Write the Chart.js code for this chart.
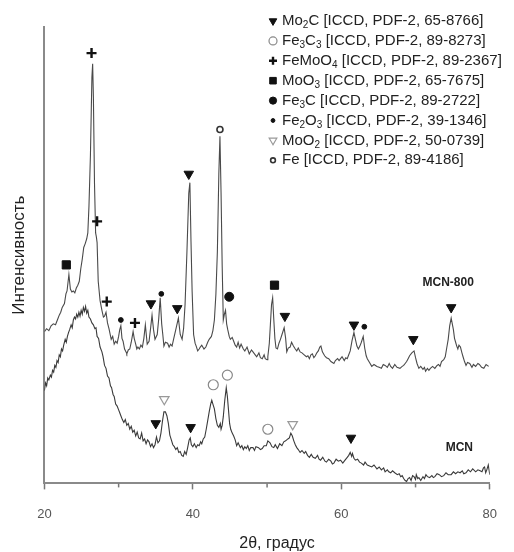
<!DOCTYPE html>
<html>
<head>
<meta charset="utf-8">
<script src="https://cdn.jsdelivr.net/npm/chart.js@4.4.1/dist/chart.umd.min.js"></script>
<style>
  html, body { margin: 0; padding: 0; background: #fff; overflow: hidden; }
  #xrd { display: block; }
</style>
</head>
<body>
<canvas id="xrd" width="514" height="552"></canvas>
<script>
// XRD patterns, [2theta, intensity (arb. units)]
const mcn800 = [
  [20.0,157],[20.3,160],[20.6,158],[20.9,163],[21.2,165],[21.5,164],[21.8,170],[22.0,174],[22.2,177],[22.4,182],
  [22.7,186],[22.9,196],[23.05,199],[23.3,216],[23.5,201],[23.7,198],[23.9,199],[24.1,197],[24.3,202],[24.5,205],
  [24.7,209],[24.9,222],[25.1,232],[25.3,244],[25.5,248],[25.7,253],[25.85,259],[26.0,286],[26.2,339],[26.4,420],
  [26.5,434],[26.6,400],[26.75,310],[26.9,259],[27.0,255],[27.1,249],[27.25,209],[27.5,189],[27.75,179],[27.95,172],
  [28.1,173],[28.3,177],[28.5,166],[28.7,160],[29.0,149],[29.2,152],[29.4,144],[29.6,147],[29.8,145],[30.0,152],
  [30.15,159],[30.3,163],[30.45,150],[30.6,147],[30.8,139],[31.0,136],[31.1,134],[31.3,138],[31.5,139],[31.7,146],
  [31.95,157],[32.1,150],[32.3,144],[32.45,139],[32.6,141],[32.8,139],[33.0,143],[33.2,141],[33.4,150],[33.6,164],
  [33.85,144],[34.1,147],[34.3,160],[34.5,174],[34.7,159],[34.9,149],[35.2,154],[35.4,170],[35.6,192],[35.8,165],
  [35.95,154],[36.1,142],[36.3,146],[36.6,145],[36.8,141],[37.0,144],[37.2,142],[37.4,149],[37.7,159],[38.05,171],
  [38.3,154],[38.55,149],[38.75,160],[38.95,185],[39.2,239],[39.45,300],[39.6,311],[39.75,250],[39.9,199],[40.1,154],
  [40.3,145],[40.45,142],[40.65,137],[40.85,139],[41.0,141],[41.2,143],[41.5,139],[41.75,141],[42.0,146],[42.2,149],
  [42.5,152],[42.7,158],[42.9,169],[43.1,195],[43.3,239],[43.5,320],[43.65,359],[43.8,300],[43.95,225],[44.1,169],
  [44.25,175],[44.4,179],[44.55,165],[44.7,159],[44.9,152],[45.05,149],[45.3,151],[45.5,147],[45.7,143],[45.9,141],
  [46.1,146],[46.3,140],[46.5,144],[46.8,139],[47.0,137],[47.3,141],[47.6,134],[47.9,138],[48.1,136],[48.4,133],
  [48.6,131],[48.9,135],[49.1,130],[49.35,129],[49.6,133],[49.75,129],[50.0,128],[50.1,131],[50.3,145],[50.45,165],
  [50.6,185],[50.75,192],[50.9,170],[51.05,150],[51.2,140],[51.4,139],[51.6,145],[51.8,149],[52.05,155],[52.3,161],
  [52.5,150],[52.65,136],[52.85,140],[53.1,141],[53.3,146],[53.55,142],[53.8,139],[54.0,137],[54.2,140],[54.45,136],
  [54.7,135],[55.0,133],[55.3,131],[55.5,132],[55.7,129],[55.9,133],[56.1,134],[56.3,130],[56.5,132],[56.7,135],
  [56.9,137],[57.1,141],[57.25,142],[57.45,136],[57.75,132],[58.0,130],[58.3,129],[58.6,126],[59.0,124],[59.2,127],
  [59.5,129],[59.7,127],[59.9,129],[60.1,131],[60.4,127],[60.6,130],[60.8,129],[61.0,133],[61.2,137],[61.45,148],
  [61.7,156],[61.9,149],[62.1,142],[62.3,139],[62.5,142],[62.7,146],[62.95,152],[63.15,140],[63.35,132],[63.5,129],
  [63.8,125],[64.1,121],[64.4,123],[64.8,121],[65.1,120],[65.4,119],[65.65,123],[65.9,122],[66.2,120],[66.45,124],
  [66.65,121],[66.9,119],[67.2,123],[67.5,120],[67.9,119],[68.2,121],[68.4,122],[68.6,124],[68.8,126],[69.0,129],
  [69.2,132],[69.5,135],[69.8,137],[70.0,130],[70.2,124],[70.45,119],[70.7,121],[71.0,118],[71.2,120],[71.35,116],
  [71.6,119],[71.8,117],[72.0,119],[72.3,121],[72.6,119],[72.9,122],[73.1,123],[73.3,121],[73.5,126],[73.8,128],
  [74.0,131],[74.2,140],[74.4,149],[74.6,163],[74.8,171],[74.95,165],[75.1,159],[75.25,150],[75.4,146],[75.55,142],
  [75.7,139],[75.85,143],[76.05,141],[76.25,135],[76.4,131],[76.6,126],[76.8,122],[77.0,125],[77.3,124],[77.6,120],
  [77.8,123],[78.1,121],[78.4,124],[78.6,123],[78.9,120],[79.2,119],[79.5,123],[79.85,121]
];
const mcn = [
  [20.0,96],[20.15,104],[20.3,101],[20.45,109],[20.6,107],[20.8,112],[20.95,110],[21.1,117],[21.25,115],[21.4,122],
  [21.55,120],[21.7,127],[21.85,125],[22.0,133],[22.15,131],[22.3,139],[22.45,137],[22.6,143],[22.8,149],[22.95,146],
  [23.1,152],[23.25,156],[23.4,159],[23.6,164],[23.75,161],[23.9,169],[24.05,172],[24.2,170],[24.35,175],[24.5,172],
  [24.65,177],[24.8,173],[24.95,179],[25.1,175],[25.25,182],[25.4,178],[25.55,183],[25.7,176],[25.85,179],[26.0,172],
  [26.2,170],[26.4,166],[26.6,164],[26.8,160],[26.95,161],[27.1,152],[27.3,150],[27.5,141],[27.75,136],[27.9,131],
  [28.1,122],[28.3,119],[28.5,111],[28.7,109],[28.9,101],[29.05,99],[29.25,92],[29.4,90],[29.6,82],[29.8,80],
  [30.0,76],[30.15,73],[30.3,70],[30.5,66],[30.7,63],[30.9,66],[31.1,60],[31.3,62],[31.5,56],[31.7,59],
  [31.9,53],[32.1,55],[32.3,49],[32.5,53],[32.7,47],[32.9,46],[33.1,52],[33.3,44],[33.5,46],[33.7,41],
  [33.9,45],[34.1,43],[34.3,38],[34.5,41],[34.7,37],[34.9,40],[35.1,48],[35.3,42],[35.5,44],[35.7,52],
  [35.9,64],[36.1,74],[36.3,74],[36.5,70],[36.7,62],[36.9,50],[37.1,45],[37.3,40],[37.5,38],[37.7,35],
  [37.9,37],[38.1,32],[38.3,33],[38.5,29],[38.7,28],[38.9,33],[39.1,30],[39.3,37],[39.5,45],[39.65,47],
  [39.8,40],[40.0,38],[40.2,41],[40.45,37],[40.65,40],[40.85,39],[41.05,43],[41.2,41],[41.4,46],[41.6,48],
  [41.8,56],[42.0,65],[42.2,74],[42.4,82],[42.55,86],[42.7,82],[42.9,77],[43.1,67],[43.3,60],[43.5,58],
  [43.7,62],[43.8,56],[43.95,60],[44.1,69],[44.3,86],[44.5,99],[44.65,90],[44.8,76],[44.95,62],[45.1,56],
  [45.3,52],[45.5,49],[45.7,45],[45.9,39],[46.1,42],[46.4,37],[46.6,39],[46.8,35],[47.0,38],[47.2,36],
  [47.4,39],[47.6,34],[47.8,37],[48.1,37],[48.3,34],[48.5,38],[48.85,37],[49.1,35],[49.35,36],[49.6,39],
  [49.9,39],[50.1,44],[50.4,42],[50.65,38],[50.9,37],[51.1,40],[51.4,36],[51.7,41],[52.0,39],[52.25,43],
  [52.5,44],[52.8,46],[53.0,47],[53.2,52],[53.4,49],[53.6,44],[53.8,40],[54.0,37],[54.2,35],[54.45,32],
  [54.7,34],[55.0,31],[55.2,33],[55.45,29],[55.7,27],[55.95,30],[56.2,27],[56.5,26],[56.8,29],[57.0,25],
  [57.2,24],[57.5,27],[57.8,23],[58.0,22],[58.3,25],[58.6,23],[58.8,20],[59.0,21],[59.3,25],[59.6,23],
  [59.9,24],[60.2,21],[60.5,24],[60.8,27],[61.0,29],[61.2,32],[61.4,28],[61.5,31],[61.7,26],[61.9,24],
  [62.2,25],[62.45,22],[62.7,21],[63.0,19],[63.2,22],[63.5,19],[63.8,18],[64.1,17],[64.4,19],[64.8,15],
  [65.1,17],[65.4,14],[65.7,16],[65.9,12],[66.2,14],[66.4,12],[66.65,11],[66.9,13],[67.2,11],[67.55,9],
  [67.8,10],[68.0,7],[68.2,8],[68.4,5],[68.6,3],[68.8,2],[69.0,5],[69.2,6],[69.4,3],[69.6,8],
  [69.8,7],[70.0,4],[70.1,9],[70.3,5],[70.45,6],[70.7,3],[71.0,7],[71.2,5],[71.4,9],[71.6,7],
  [71.9,6],[72.2,8],[72.4,6],[72.6,7],[72.9,10],[73.2,9],[73.5,7],[73.8,8],[74.1,11],[74.4,9],
  [74.8,9],[75.1,12],[75.4,10],[75.7,12],[76.0,11],[76.3,13],[76.5,10],[76.8,11],[77.1,14],[77.4,12],
  [77.7,15],[78.1,12],[78.4,14],[78.7,13],[78.95,12],[79.15,16],[79.3,17],[79.45,11],[79.6,14],[79.8,19],[80.0,9]
];

// phase marks above the peaks, [2theta, height]
const mo2cPeaks   = [[34.35,186],[37.9,181],[39.45,320],[52.4,173],[61.7,164],[69.7,149],[74.8,182],[35.0,62],[39.7,58],[61.3,47]];
const fe3c3Peaks  = [[42.75,102],[44.65,112],[50.1,56]];
const femoo4Peaks = [[26.35,445],[27.1,271],[28.4,188],[32.2,166]];
const moo3Peaks   = [[22.95,226],[51.0,205]];
const fe3cPeaks   = [[44.9,193]];
const fe2o3Peaks  = [[30.3,169],[35.75,196],[63.1,162]];
const moo2Peaks   = [[36.15,87],[53.45,61]];
const fePeaks     = [[43.65,366]];

const phaseNames = ['Mo_2C', 'Fe_3C_3', 'FeMoO_4', 'MoO_3', 'Fe_3C', 'Fe_2O_3', 'MoO_2', 'Fe'];
const phaseCards = ['65-8766', '89-8273', '89-2367', '65-7675', '89-2722', '39-1346', '50-0739', '89-4186'];
const phasePeaks = [mo2cPeaks, fe3c3Peaks, femoo4Peaks, moo3Peaks, fe3cPeaks, fe2o3Peaks, moo2Peaks, fePeaks];

const xMajor = [20, 40, 60, 80];
const xMinor = [30, 50, 70];

// marker look for each phase (same order as phaseNames)
const markStyles = [
  { pointStyle: 'triangle', rotation: 180, radius: 5.5, fill: '#111', stroke: '#111', bw: 1 },
  { pointStyle: 'circle', rotation: 0, radius: 5, fill: '#fff', stroke: '#888', bw: 1.2 },
  { pointStyle: 'cross', rotation: 0, radius: 5, fill: '#111', stroke: '#111', bw: 2.4 },
  { pointStyle: 'rect', rotation: 0, radius: 5.8, fill: '#111', stroke: '#111', bw: 1 },
  { pointStyle: 'circle', rotation: 0, radius: 4.5, fill: '#111', stroke: '#111', bw: 1 },
  { pointStyle: 'circle', rotation: 0, radius: 2.4, fill: '#111', stroke: '#111', bw: 1 },
  { pointStyle: 'triangle', rotation: 180, radius: 5.5, fill: '#fff', stroke: '#999', bw: 1.2 },
  { pointStyle: 'circle', rotation: 0, radius: 3, fill: '#fff', stroke: '#333', bw: 1.6 }
];

const FONT = '"Liberation Sans", Arial, sans-serif';

// text with "_2" style subscripts
function drawRich(ctx, str, x, y, size, color) {
  ctx.fillStyle = color;
  ctx.textAlign = 'left';
  ctx.textBaseline = 'middle';
  const parts = str.split(/(_\d)/);
  for (const p of parts) {
    if (!p) continue;
    if (p[0] === '_') {
      ctx.font = Math.round(size * 0.65) + 'px ' + FONT;
      ctx.fillText(p[1], x, y + size * 0.3);
      x += ctx.measureText(p[1]).width;
    } else {
      ctx.font = size + 'px ' + FONT;
      ctx.fillText(p, x, y);
      x += ctx.measureText(p).width;
    }
  }
}

const decor = {
  id: 'decor',
  afterDraw(chart) {
    const ctx = chart.ctx;
    const xs = chart.scales.x, ys = chart.scales.y;
    const area = chart.chartArea;
    ctx.save();

    // minor ticks
    ctx.strokeStyle = '#777';
    ctx.lineWidth = 1.5;
    xMinor.forEach(v => {
      const px = xs.getPixelForValue(v);
      ctx.beginPath();
      ctx.moveTo(px, area.bottom);
      ctx.lineTo(px, area.bottom + 4);
      ctx.stroke();
    });

    // x title
    ctx.fillStyle = '#222';
    ctx.font = '16px ' + FONT;
    ctx.textAlign = 'center';
    ctx.textBaseline = 'middle';
    ctx.fillText('2θ, градус', 277, 544);

    // sample labels
    ctx.font = 'bold 12px ' + FONT;
    ctx.fillText('MCN-800', xs.getPixelForValue(74.4), ys.getPixelForValue(208));
    ctx.fillText('MCN', xs.getPixelForValue(75.9), ys.getPixelForValue(37));

    // phase legend
    phaseNames.forEach((name, i) => {
      const y = 21 + i * 19.9;
      const st = markStyles[i];
      ctx.fillStyle = st.fill;
      ctx.strokeStyle = st.stroke;
      ctx.lineWidth = st.bw;
      Chart.helpers.drawPoint(ctx, {
        pointStyle: st.pointStyle, rotation: st.rotation,
        radius: st.radius * 0.8, borderWidth: st.bw
      }, 273, y);
      drawRich(ctx, name + ' [ICCD, PDF-2, ' + phaseCards[i] + ']', 282, y, 15, '#222');
    });
    ctx.restore();
  }
};

const markSets = phasePeaks.map((pk, i) => ({
  type: 'scatter',
  label: phaseNames[i],
  data: pk.map(p => ({ x: p[0], y: p[1] })),
  pointStyle: markStyles[i].pointStyle,
  rotation: markStyles[i].rotation,
  pointRadius: markStyles[i].radius,
  backgroundColor: markStyles[i].fill,
  borderColor: markStyles[i].stroke,
  borderWidth: markStyles[i].bw,
  showLine: false,
  clip: false
}));

new Chart(document.getElementById('xrd'), {
  type: 'line',
  data: {
    datasets: [
      ...markSets,
      {
        label: 'MCN-800',
        data: mcn800.map(p => ({ x: p[0], y: p[1] })),
        borderColor: '#4a4a4a',
        borderWidth: 1.1,
        pointRadius: 0,
        tension: 0
      },
      {
        label: 'MCN',
        data: mcn.map(p => ({ x: p[0], y: p[1] })),
        borderColor: '#3a3a3a',
        borderWidth: 1.1,
        pointRadius: 0,
        tension: 0
      }
    ]
  },
  options: {
    responsive: false,
    animation: false,
    layout: { padding: { left: 7, right: 6, top: 27, bottom: 13 } },
    plugins: {
      legend: { display: false },
      tooltip: { enabled: false }
    },
    scales: {
      x: {
        type: 'linear',
        min: 20,
        max: 80,
        border: { color: '#8a8a8a', width: 2 },
        grid: {
          drawOnChartArea: false,
          tickLength: 6,
          tickWidth: 1.5,
          tickColor: ctx => (xMajor.includes(ctx.tick && ctx.tick.value) ? '#777' : 'rgba(0,0,0,0)')
        },
        ticks: {
          stepSize: 10,
          autoSkip: false,
          maxRotation: 0,
          padding: 17,
          color: '#555',
          font: { family: FONT, size: 13 },
          callback: v => (xMajor.includes(v) ? String(v) : '')
        }
      },
      y: {
        min: 0,
        max: 472,
        border: { display: true, color: '#8a8a8a', width: 2 },
        grid: { display: false },
        ticks: { display: false },
        title: {
          display: true,
          text: 'Интенсивность',
          color: '#222',
          font: { family: FONT, size: 17 },
          padding: { top: 2, bottom: 7 }
        }
      }
    }
  },
  plugins: [decor]
});
</script>
</body>
</html>
